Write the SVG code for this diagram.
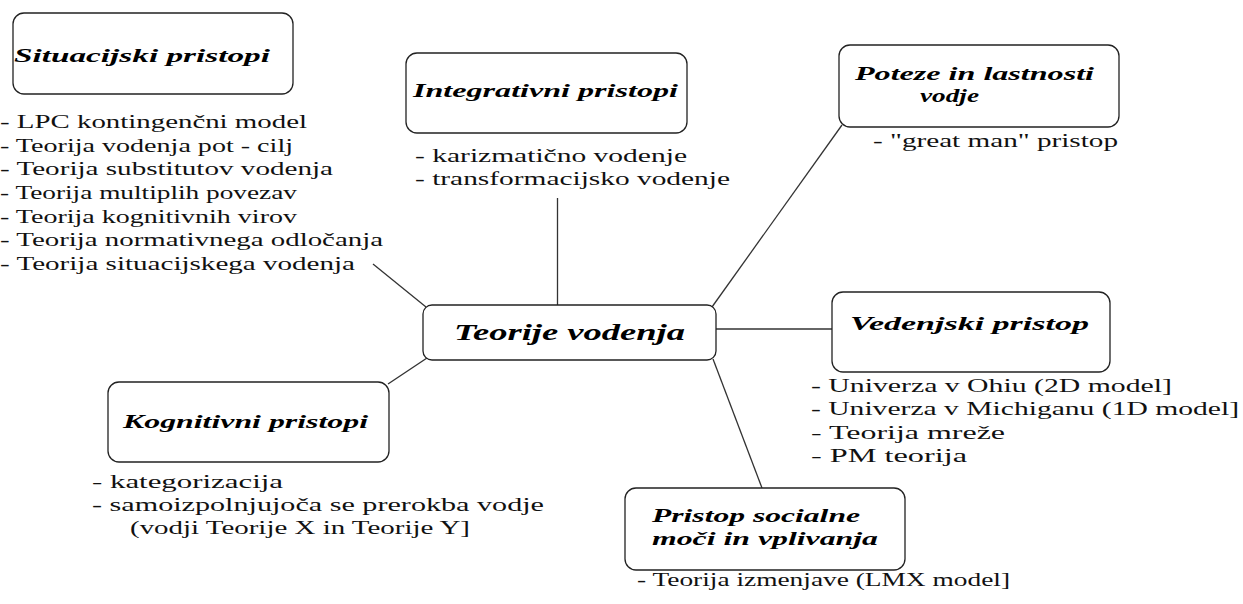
<svg xmlns="http://www.w3.org/2000/svg" width="1243" height="604" viewBox="0 0 1243 604">
<style>
.box{fill:#fff;stroke:#222;stroke-width:1.3}
.t{font-family:"Liberation Serif","Times New Roman",serif;font-weight:bold;font-style:italic;font-size:18px;fill:#000}
.c{font-family:"Liberation Serif","Times New Roman",serif;font-weight:bold;font-style:italic;font-size:23px;fill:#000}
.b{font-family:"Liberation Serif","Times New Roman",serif;font-size:19px;fill:#111}
.ln{stroke:#333;stroke-width:1.3;fill:none}
</style>
<rect width="1243" height="604" fill="#fff"/>
<g id="connectors">
<line class="ln" x1="373" y1="264" x2="426" y2="307"/>
<line class="ln" x1="557.5" y1="198" x2="557.5" y2="305"/>
<line class="ln" x1="712" y1="307" x2="842" y2="125"/>
<line class="ln" x1="716" y1="329" x2="832" y2="329"/>
<line class="ln" x1="713" y1="359" x2="762" y2="488"/>
<line class="ln" x1="427" y1="358" x2="388" y2="384"/>
</g>
<g id="situacijski">
<rect class="box" x="13" y="13" width="280" height="81" rx="11"/>
<text class="t" x="14" y="62" textLength="256" lengthAdjust="spacingAndGlyphs">Situacijski pristopi</text>
<text class="b" x="0" y="128" textLength="307" lengthAdjust="spacingAndGlyphs">- LPC kontingenčni model</text>
<text class="b" x="0" y="151.5" textLength="293" lengthAdjust="spacingAndGlyphs">- Teorija vodenja pot - cilj</text>
<text class="b" x="0" y="175" textLength="333" lengthAdjust="spacingAndGlyphs">- Teorija substitutov vodenja</text>
<text class="b" x="0" y="199" textLength="297" lengthAdjust="spacingAndGlyphs">- Teorija multiplih povezav</text>
<text class="b" x="0" y="222.5" textLength="297" lengthAdjust="spacingAndGlyphs">- Teorija kognitivnih virov</text>
<text class="b" x="0" y="246" textLength="383" lengthAdjust="spacingAndGlyphs">- Teorija normativnega odločanja</text>
<text class="b" x="0" y="269.5" textLength="355" lengthAdjust="spacingAndGlyphs">- Teorija situacijskega vodenja</text>
</g>
<g id="integrativni">
<rect class="box" x="406" y="53" width="281" height="80" rx="11"/>
<text class="t" x="413" y="97" textLength="265" lengthAdjust="spacingAndGlyphs">Integrativni pristopi</text>
<text class="b" x="415" y="162" textLength="272" lengthAdjust="spacingAndGlyphs">- karizmatično vodenje</text>
<text class="b" x="415" y="185" textLength="315" lengthAdjust="spacingAndGlyphs">- transformacijsko vodenje</text>
</g>
<g id="poteze">
<rect class="box" x="839" y="45" width="280" height="82" rx="11"/>
<text class="t" x="855" y="80" textLength="239" lengthAdjust="spacingAndGlyphs">Poteze in lastnosti</text>
<text class="t" x="920" y="102" textLength="59" lengthAdjust="spacingAndGlyphs">vodje</text>
<text class="b" x="873" y="147" textLength="245" lengthAdjust="spacingAndGlyphs">- "great man" pristop</text>
</g>
<g id="center">
<rect class="box" x="423" y="305" width="293" height="55" rx="9"/>
<text class="c" x="454" y="340" textLength="231" lengthAdjust="spacingAndGlyphs">Teorije vodenja</text>
</g>
<g id="vedenjski">
<rect class="box" x="832" y="292" width="278" height="80" rx="11"/>
<text class="t" x="850" y="330" textLength="239" lengthAdjust="spacingAndGlyphs">Vedenjski pristop</text>
<text class="b" x="811" y="392" textLength="361" lengthAdjust="spacingAndGlyphs">- Univerza v Ohiu (2D model]</text>
<text class="b" x="811" y="415" textLength="428" lengthAdjust="spacingAndGlyphs">- Univerza v Michiganu (1D model]</text>
<text class="b" x="811" y="439" textLength="194" lengthAdjust="spacingAndGlyphs">- Teorija mreže</text>
<text class="b" x="811" y="462" textLength="156" lengthAdjust="spacingAndGlyphs">- PM teorija</text>
</g>
<g id="kognitivni">
<rect class="box" x="108" y="382" width="281" height="80" rx="11"/>
<text class="t" x="123" y="428" textLength="245" lengthAdjust="spacingAndGlyphs">Kognitivni pristopi</text>
<text class="b" x="92" y="488" textLength="191" lengthAdjust="spacingAndGlyphs">- kategorizacija</text>
<text class="b" x="92" y="511" textLength="452" lengthAdjust="spacingAndGlyphs">- samoizpolnjujoča se prerokba vodje</text>
<text class="b" x="130" y="534" textLength="340" lengthAdjust="spacingAndGlyphs">(vodji Teorije X in Teorije Y]</text>
</g>
<g id="pristop">
<rect class="box" x="625" y="488" width="280" height="82" rx="11"/>
<text class="t" x="652" y="522" textLength="208" lengthAdjust="spacingAndGlyphs">Pristop socialne</text>
<text class="t" x="652" y="545" textLength="226" lengthAdjust="spacingAndGlyphs">moči in vplivanja</text>
<text class="b" x="637" y="586" textLength="373" lengthAdjust="spacingAndGlyphs">- Teorija izmenjave (LMX model]</text>
</g>
</svg>
